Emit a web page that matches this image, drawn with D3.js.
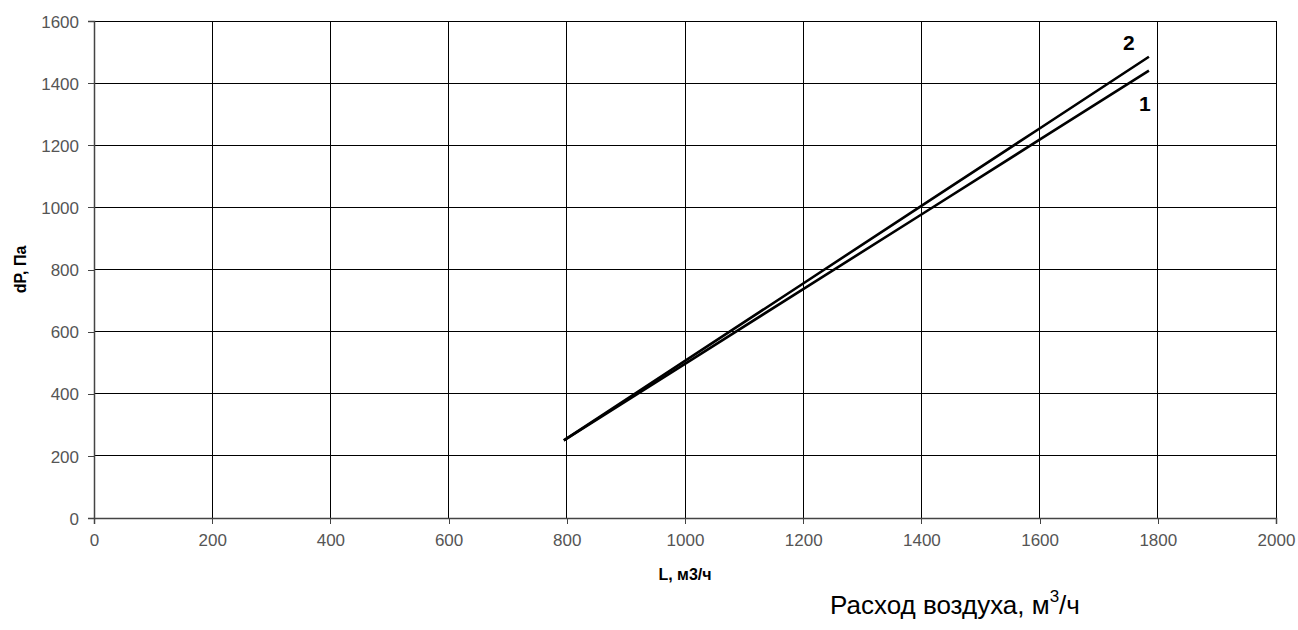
<!DOCTYPE html>
<html>
<head>
<meta charset="utf-8">
<script src="https://cdn.jsdelivr.net/npm/d3@7"></script>
<style>
  body { margin: 0; background: #fff; }
  svg { display: block; font-family: Arial, "Liberation Sans", sans-serif; }
</style>
</head>
<body>
<div id="chart"></div>
<script>
// values
var xTicks = [0, 200, 400, 600, 800, 1000, 1200, 1400, 1600, 1800, 2000];
var yTicks = [0, 200, 400, 600, 800, 1000, 1200, 1400, 1600];
var flow = [795, 1000, 1200, 1400, 1600, 1785];
var series1 = [250, 496, 737, 977, 1218, 1440];
var series2 = [250, 506, 755, 1005, 1254, 1485];
var seriesNames = ['1', '2'];

var width = 1298, height = 630;
var margin = {top: 21, right: 22, bottom: 112, left: 94};

var svg = d3.select('#chart').append('svg')
  .attr('width', width)
  .attr('height', height);

var x = d3.scaleLinear()
  .domain([0, 2000])
  .range([margin.left, width - margin.right]);

var y = d3.scaleLinear()
  .domain([0, 1600])
  .range([height - margin.bottom, margin.top]);

// grid
svg.append('g').selectAll('line')
  .data(xTicks.slice(1))
  .enter().append('line')
  .attr('x1', function(d) {return x(d)})
  .attr('x2', function(d) {return x(d)})
  .attr('y1', y(0))
  .attr('y2', y(1600))
  .attr('stroke', '#000')
  .attr('stroke-width', 1)
  .attr('shape-rendering', 'crispEdges');

svg.append('g').selectAll('line')
  .data(yTicks.slice(1))
  .enter().append('line')
  .attr('x1', x(0))
  .attr('x2', x(2000))
  .attr('y1', function(d) {return y(d)})
  .attr('y2', function(d) {return y(d)})
  .attr('stroke', '#000')
  .attr('stroke-width', 1)
  .attr('shape-rendering', 'crispEdges');

// axes
var fmt = d3.format('d');
var xAxis = svg.append('g')
  .attr('transform', 'translate(0,' + y(0) + ')')
  .call(d3.axisBottom(x).tickValues(xTicks).tickFormat(fmt).tickSize(6).tickPadding(10));
var yAxis = svg.append('g')
  .attr('transform', 'translate(' + x(0) + ',0)')
  .call(d3.axisLeft(y).tickValues(yTicks).tickFormat(fmt).tickSize(6).tickPadding(9));

[xAxis, yAxis].forEach(function(a) {
  a.select('.domain').attr('stroke', '#444').attr('stroke-width', 1.5);
  a.selectAll('.tick line').attr('stroke', '#444').attr('shape-rendering', 'crispEdges');
  a.selectAll('.tick text')
    .attr('fill', '#555')
    .style('font-size', '17px')
    .style('font-family', 'Arial, "Liberation Sans", sans-serif');
});
yAxis.selectAll('.tick text').attr('dy', '0.36em');

// lines
var line = d3.line()
  .x(function(d) {return x(d[0])})
  .y(function(d) {return y(d[1])});

[series1, series2].forEach(function(s) {
  svg.append('path')
    .datum(flow.map(function(f, i) {return [f, s[i]]}))
    .attr('d', line)
    .attr('fill', 'none')
    .attr('stroke', '#000')
    .attr('stroke-width', 2.6);
});

// curve numbers
svg.append('text')
  .attr('x', x(1785) - 4)
  .attr('y', y(1440) + 40)
  .attr('text-anchor', 'middle')
  .style('font-size', '21px')
  .style('font-weight', 'bold')
  .text(seriesNames[0]);
svg.append('text')
  .attr('x', x(1785) - 20)
  .attr('y', y(1485) - 7)
  .attr('text-anchor', 'middle')
  .style('font-size', '21px')
  .style('font-weight', 'bold')
  .text(seriesNames[1]);

// titles
svg.append('text')
  .attr('x', x(1000))
  .attr('y', 580)
  .attr('text-anchor', 'middle')
  .style('font-size', '16px')
  .style('font-weight', 'bold')
  .text('L, м3/ч');

svg.append('text')
  .attr('transform', 'translate(26,' + ((y(0) + y(1600)) / 2) + ') rotate(-90)')
  .attr('text-anchor', 'middle')
  .style('font-size', '16px')
  .style('font-weight', 'bold')
  .text('dP, Па');

var t = svg.append('text')
  .attr('x', 830)
  .attr('y', 614)
  .style('font-size', '26px')
  .text('Расход воздуха, м');
t.append('tspan').attr('dy', -12).style('font-size', '17px').text('3');
t.append('tspan').attr('dy', 12).text('/ч');
</script>
</body>
</html>
